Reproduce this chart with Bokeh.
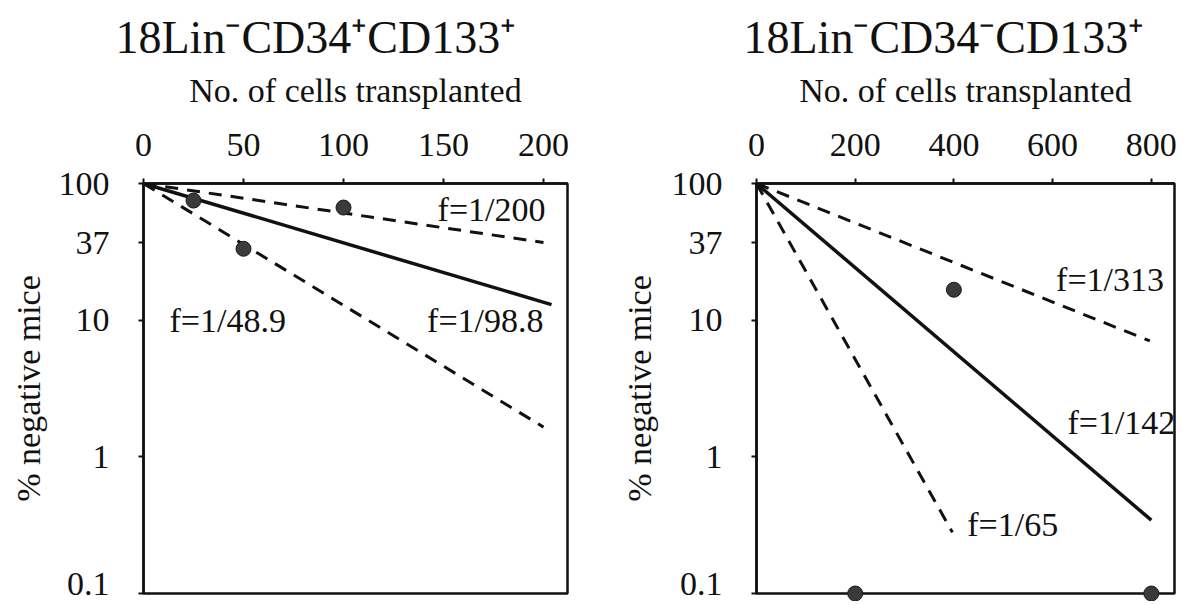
import numpy as np
from bokeh.plotting import figure
from bokeh.models import FixedTicker, Label, Range1d
from bokeh.core.properties import value
from bokeh.layouts import row
from bokeh.embed import file_html
from bokeh.resources import INLINE

FONT = "Liberation Serif"

# ---------------- data ----------------
# shared y axis (log, % negative mice)
y_ticks = [0.1, 1, 10, 37, 100]
y_tick_labels = ["0.1", "1", "10", "37", "100"]
y_floor = 0.1  # 0% negative is drawn on the bottom edge

# left panel: 18Lin-CD34+CD133+
left_title = "18Lin\u207bCD34\u207aCD133\u207a"
left_x_ticks = [0, 50, 100, 150, 200]
left_cells = [25, 50, 100]
left_neg_pct = [75.0, 33.3, 66.7]
left_fit_names = ["f=1/48.9", "f=1/98.8", "f=1/200"]
left_fit_x = [[0, 200], [0, 204], [0, 200]]
left_fit_y = [[100, 1.65], [100, 13.0], [100, 37.0]]

# right panel: 18Lin-CD34-CD133+
right_title = "18Lin\u207bCD34\u207bCD133\u207a"
right_x_ticks = [0, 200, 400, 600, 800]
right_cells = [200, 400, 800]
right_neg_pct = [0.0, 16.7, 0.0]
right_fit_names = ["f=1/65", "f=1/142", "f=1/313"]
right_fit_x = [[0, 397], [0, 800], [0, 797]]
right_fit_y = [[100, 0.28], [100, 0.344], [100, 7.05]]

x_label = "No. of cells transplanted"
y_label = "% negative mice"

TXT = "34px"
INK = "#111111"


def make_panel(title, x_end, x_ticks, min_left, frame_w, min_right, title_offset, ylab_standoff):
    p = figure(frame_width=frame_w, frame_height=410,
               min_border_left=min_left, min_border_right=min_right,
               min_border_top=183, min_border_bottom=8,
               x_range=Range1d(0, x_end), y_range=Range1d(0.1, 100),
               y_axis_type="log", x_axis_location="above",
               output_backend="svg", toolbar_location=None,
               background_fill_color="white", border_fill_color="white")
    p.title.text = title
    p.title.text_font = FONT
    p.title.text_font_size = "46px"
    p.title.text_font_style = "normal"
    p.title.text_color = INK
    p.title.align = "left"
    p.title.offset = title_offset
    p.title.standoff = 12
    p.grid.visible = False
    p.outline_line_color = INK
    p.outline_line_width = 2.5
    p.outline_line_alpha = 1.0

    xa = p.xaxis[0]
    xa.ticker = FixedTicker(ticks=x_ticks)
    xa.axis_label = x_label
    ya = p.yaxis[0]
    ya.ticker = FixedTicker(ticks=y_ticks)
    # the lowest label is drawn just above its tick (as in the source) so it stays on the page
    ya.major_label_overrides = {t: (l if t != y_floor else "") for t, l in zip(y_ticks, y_tick_labels)}
    ya.axis_label = y_label
    for ax in (xa, ya):
        ax.axis_line_color = INK
        ax.axis_line_width = 2.5
        ax.major_tick_line_color = INK
        ax.major_tick_line_width = 2
        ax.major_tick_out = 5
        ax.major_tick_in = 0
        ax.minor_tick_line_color = None
        ax.major_label_text_font = FONT
        ax.major_label_text_font_size = TXT
        ax.major_label_text_color = INK
        ax.axis_label_text_font = FONT
        ax.axis_label_text_font_size = TXT
        ax.axis_label_text_font_style = "normal"
        ax.axis_label_text_color = INK
    xa.major_label_standoff = 23
    xa.axis_label_standoff = 22
    ya.major_label_standoff = 29
    ya.axis_label_standoff = ylab_standoff
    p.text(x=[0], y=[y_floor], text=[y_tick_labels[y_ticks.index(y_floor)]],
           x_offset=-34, y_offset=-10, text_align="right", text_baseline="middle",
           text_font=value(FONT), text_font_size=value(TXT), text_color=INK,
           level="overlay")
    return p


def draw(p, fit_x, fit_y, cells, neg):
    for i, (xs, ys) in enumerate(zip(fit_x, fit_y)):
        if i == 1:
            p.line(xs, ys, line_color=INK, line_width=3.5)
        else:
            p.line(xs, ys, line_color=INK, line_width=3, line_dash="13 9")
    shown = np.maximum(np.array(neg, dtype=float), y_floor)
    p.scatter(cells, shown, marker="circle", size=15, fill_color="#3a3a3a",
              line_color="#1a1a1a", line_width=1, level="overlay")


def lab(p, text, x, y, align):
    p.add_layout(Label(x=x, y=y, text=text, text_align=align, text_baseline="middle",
                       text_font=FONT, text_font_size=TXT, text_color=INK))


p1 = make_panel(left_title, 212, left_x_ticks, 143, 424, 33, -28, 9)
draw(p1, left_fit_x, left_fit_y, left_cells, left_neg_pct)
lab(p1, left_fit_names[2], 201, 64.6, "right")
lab(p1, left_fit_names[0], 13, 9.9, "left")
lab(p1, left_fit_names[1], 200, 9.9, "right")

p2 = make_panel(right_title, 847, right_x_ticks, 156, 418, 4, -13, 11)
draw(p2, right_fit_x, right_fit_y, right_cells, right_neg_pct)
lab(p2, right_fit_names[2], 607, 19.7, "left")
lab(p2, right_fit_names[1], 630, 1.77, "left")
lab(p2, right_fit_names[0], 427, 0.319, "left")

layout = row(p1, p2)
open("out.html", "w").write(file_html(layout, INLINE))
